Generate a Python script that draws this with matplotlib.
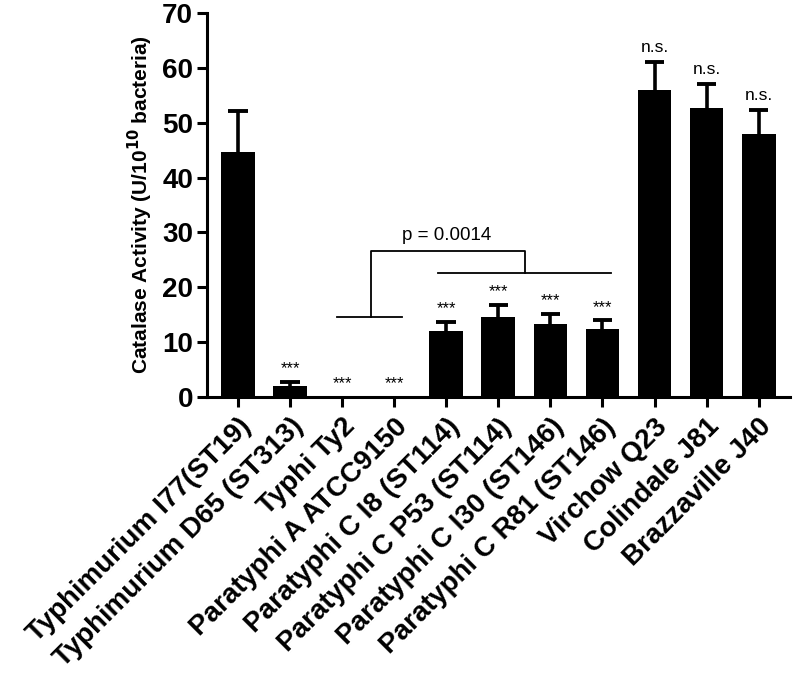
import matplotlib
matplotlib.use("Agg")
import matplotlib.pyplot as plt
import numpy as np

plt.rcParams.update({
    "font.family": ["Liberation Sans", "DejaVu Sans"],
    "axes.linewidth": 2.2,
})

# ---- data ---------------------------------------------------------------
strains = ["Typhimurium I77(ST19)", "Typhimurium D65 (ST313)", "Typhi Ty2",
           "Paratyphi A ATCC9150", "Paratyphi C I8 (ST114)",
           "Paratyphi C P53 (ST114)", "Paratyphi C I30 (ST146)",
           "Paratyphi C R81 (ST146)", "Virchow Q23", "Colindale J81",
           "Brazzaville J40"]
means = [44.6, 2.0, 0.0, 0.0, 12.0, 14.6, 13.35, 12.4, 56.0, 52.7, 48.0]
errs = [7.5, 0.8, 0.0, 0.0, 1.7, 2.2, 1.75, 1.6, 5.1, 4.4, 4.3]
marks = ["", "***", "***", "***", "***", "***", "***", "***",
         "n.s.", "n.s.", "n.s."]
p_text = "p = 0.0014"

# ---- figure -------------------------------------------------------------
fig = plt.figure(figsize=(7.93, 6.82), dpi=100)
ax = fig.add_axes([0.261, 0.418, 0.735, 0.563])

x = np.arange(len(strains))
m = np.array(means)
e = np.array(errs)
ax.bar(x, m, width=0.65, color="black", zorder=2)
# upper error bars only
has = e > 0
ax.vlines(x[has], m[has], m[has] + e[has], color="black", lw=2.6, zorder=1)
ax.hlines(m[has] + e[has], x[has] - 0.19, x[has] + 0.19, color="black",
          lw=2.8, zorder=1)

for xi, mi, ei, t in zip(x, m, e, marks):
    if not t:
        continue
    if t == "***":
        ax.text(xi, mi + ei + 1.0, t, ha="center", va="bottom", fontsize=12)
    else:
        ax.text(xi, mi + ei + 1.2, t, ha="center", va="bottom", fontsize=12.5)

# significance bracket
lw = 1.3
ax.plot([1.89, 3.14], [14.6, 14.6], color="black", lw=lw)
ax.plot([2.56, 2.56, 5.51, 5.51], [14.6, 26.6, 26.6, 22.6], color="black", lw=lw)
ax.plot([3.84, 7.16], [22.6, 22.6], color="black", lw=lw)
ax.text(4.0, 27.8, p_text, ha="center", va="bottom", fontsize=13.5)

ax.set_xlim(-0.6, 10.6)
ax.set_ylim(0, 70)
ax.set_yticks(np.arange(0, 71, 10))
ax.set_xticks(x)
ax.set_xticklabels(strains, rotation=45, ha="right", rotation_mode="anchor",
                   fontsize=20, fontweight="bold")
for lab in ax.get_yticklabels():
    lab.set_fontsize(20)
    lab.set_fontweight("bold")
ax.tick_params(axis="both", width=2.2, length=7, direction="out")
ax.tick_params(axis="x", pad=5)
ax.tick_params(axis="y", pad=3)
ax.set_ylabel(r"Catalase Activity (U/10$^{\mathbf{10}}$ bacteria)",
              fontsize=15, fontweight="bold", labelpad=5)
ax.spines["top"].set_visible(False)
ax.spines["right"].set_visible(False)

fig.savefig("out.png", dpi=100)
